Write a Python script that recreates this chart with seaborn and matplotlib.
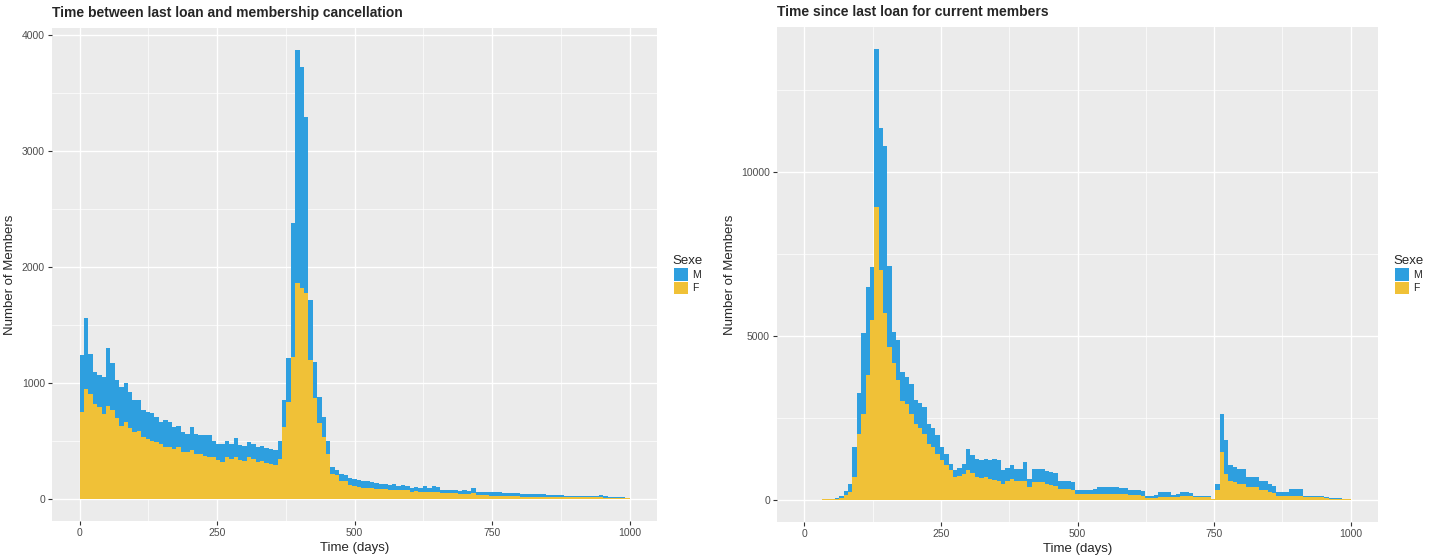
import numpy as np
import pandas as pd
import matplotlib
matplotlib.use("Agg")
import matplotlib.pyplot as plt
from matplotlib.ticker import MultipleLocator
import seaborn as sns

# 8-day bins from 0 to 1000 days
BIN_WIDTH = 8
bin_starts = np.arange(0, 1000, BIN_WIDTH)

# Left panel: time between last loan and membership cancellation
left_f = [
    750, 945, 900, 820, 790, 730, 800, 760, 695, 630,
    660, 605, 575, 585, 530, 510, 500, 490, 475, 445,
    445, 430, 445, 400, 400, 415, 385, 385, 370, 360,
    360, 330, 315, 360, 345, 360, 330, 325, 360, 340,
    315, 320, 310, 300, 290, 340, 615, 830, 1225, 1860,
    1820, 1775, 1195, 865, 650, 530, 385, 215, 200, 155,
    150, 120, 110, 100, 95, 90, 90, 85, 80, 80,
    75, 75, 70, 70, 70, 60, 65, 60, 60, 60,
    60, 60, 50, 45, 45, 45, 43, 43, 42, 45,
    30, 28, 27, 26, 26, 25, 24, 22, 20, 19,
    18, 17, 17, 16, 16, 15, 15, 13, 12, 12,
    11, 11, 11, 11, 10, 10, 10, 10, 11, 9,
    7, 6, 6, 5, 4,
]
left_m = [
    490, 615, 350, 270, 275, 320, 500, 410, 330, 335,
    335, 315, 275, 265, 230, 235, 235, 215, 185, 230,
    215, 185, 185, 175, 160, 200, 175, 160, 175, 185,
    140, 145, 160, 140, 130, 160, 130, 130, 130, 130,
    130, 130, 130, 130, 130, 160, 235, 380, 1155, 2005,
    1900, 1515, 520, 315, 225, 175, 115, 60, 50, 60,
    50, 60, 60, 60, 55, 60, 50, 50, 50, 45,
    45, 50, 40, 45, 40, 35, 35, 35, 50, 35,
    45, 40, 25, 27, 25, 27, 25, 27, 24, 50,
    28, 30, 28, 28, 27, 30, 28, 28, 28, 26,
    24, 23, 23, 22, 22, 21, 20, 17, 16, 15,
    15, 15, 14, 15, 15, 14, 14, 13, 17, 13,
    7, 6, 6, 5, 4,
]

# Right panel: time since last loan for current members
right_f = [
    0, 0, 0, 0, 5, 8, 15, 30, 60, 150,
    220, 690, 2010, 2600, 3800, 5500, 8950, 7010, 5690, 4670,
    4160, 3650, 3000, 2930, 2620, 2320, 2200, 2010, 1700, 1600,
    1400, 1200, 1050, 890, 680, 720, 790, 890, 800, 680,
    650, 680, 640, 600, 580, 480, 560, 630, 580, 580,
    580, 380, 530, 530, 530, 480, 430, 420, 330, 330,
    310, 280, 170, 170, 170, 170, 170, 170, 175, 175,
    170, 175, 170, 165, 150, 125, 125, 120, 50, 50,
    55, 90, 90, 90, 70, 80, 120, 120, 110, 70,
    70, 70, 70, 10, 280, 1450, 790, 580, 540, 480,
    480, 380, 380, 380, 280, 280, 225, 200, 120, 120,
    120, 120, 120, 120, 70, 70, 70, 70, 70, 40,
    30, 25, 20, 15, 5,
]
right_m = [
    0, 0, 0, 0, 5, 7, 10, 20, 40, 100,
    260, 910, 1230, 2500, 2700, 1600, 4800, 4340, 5100, 2450,
    970, 1220, 900, 820, 920, 710, 750, 820, 620, 600,
    560, 400, 350, 200, 210, 230, 300, 660, 550, 570,
    550, 570, 560, 650, 620, 410, 390, 410, 360, 360,
    560, 250, 410, 410, 410, 400, 410, 380, 250, 250,
    250, 250, 110, 110, 110, 120, 160, 210, 205, 205,
    200, 205, 190, 185, 150, 155, 155, 140, 70, 70,
    75, 135, 135, 135, 80, 100, 105, 105, 90, 50,
    50, 50, 50, 10, 200, 1170, 1020, 460, 460, 460,
    460, 300, 300, 300, 300, 300, 255, 200, 105, 105,
    105, 210, 210, 210, 50, 50, 50, 50, 50, 30,
    30, 25, 20, 15, 5,
]

titles = ["Time between last loan and membership cancellation",
          "Time since last loan for current members"]
y_major = [1000, 5000]
sexes = ["M", "F"]
palette = {"M": "#2E9FDF", "F": "#F0C137"}


def make_frame(m_counts, f_counts):
    centers = bin_starts + BIN_WIDTH / 2
    df_m = pd.DataFrame({"day": centers, "count": m_counts, "Sexe": "M"})
    df_f = pd.DataFrame({"day": centers, "count": f_counts, "Sexe": "F"})
    return pd.concat([df_m, df_f], ignore_index=True)


sns.set_theme(style="darkgrid", rc={
    "axes.facecolor": "#EBEBEB",
    "grid.color": "white",
    "figure.facecolor": "white",
})
plt.rcParams["font.family"] = ["Liberation Sans", "DejaVu Sans"]

fig = plt.figure(figsize=(14.38, 5.58), dpi=100)
ax_left = fig.add_axes([52 / 1438, 37 / 558, 605 / 1438, 493 / 558])
ax_right = fig.add_axes([777 / 1438, 36 / 558, 601 / 1438, 495 / 558])

for ax, (m_counts, f_counts), title, ymaj in zip(
        [ax_left, ax_right],
        [(left_m, left_f), (right_m, right_f)],
        titles, y_major):
    df = make_frame(m_counts, f_counts)
    sns.histplot(data=df, x="day", weights="count", hue="Sexe",
                 hue_order=sexes, multiple="stack", binwidth=BIN_WIDTH,
                 binrange=(0, 1000), element="step", palette=palette,
                 alpha=1, linewidth=0, ax=ax)

    top = (np.array(m_counts) + np.array(f_counts)).max()
    ax.set_ylim(-0.05 * top, 1.05 * top)
    ax.set_xlim(-50, 1050)

    ax.xaxis.set_major_locator(MultipleLocator(250))
    ax.xaxis.set_minor_locator(MultipleLocator(125))
    ax.yaxis.set_major_locator(MultipleLocator(ymaj))
    ax.yaxis.set_minor_locator(MultipleLocator(ymaj / 2))
    ax.grid(which="major", color="white", linewidth=1.0)
    ax.grid(which="minor", color="white", linewidth=0.5)
    ax.set_axisbelow(True)
    for s in ax.spines.values():
        s.set_visible(False)

    ax.tick_params(which="major", length=3, width=0.8, color="#333333",
                   labelsize=7.5, labelcolor="#4D4D4D", pad=2,
                   bottom=True, left=True)
    ax.tick_params(which="minor", length=0)

    ax.set_xlabel("Time (days)", fontsize=9.5, labelpad=3)
    ax.set_ylabel("Number of Members", fontsize=9.5, labelpad=4)
    ax.set_title(title, loc="left", fontsize=10, fontweight="bold", pad=8)

    sns.move_legend(ax, "center left", bbox_to_anchor=(1.01, 0.5),
                    frameon=False, title="Sexe", fontsize=7.5,
                    title_fontsize=9.5, handlelength=1.3, handleheight=1.5,
                    handletextpad=0.4, labelspacing=0.1)

fig.savefig("out.png", dpi=100)
